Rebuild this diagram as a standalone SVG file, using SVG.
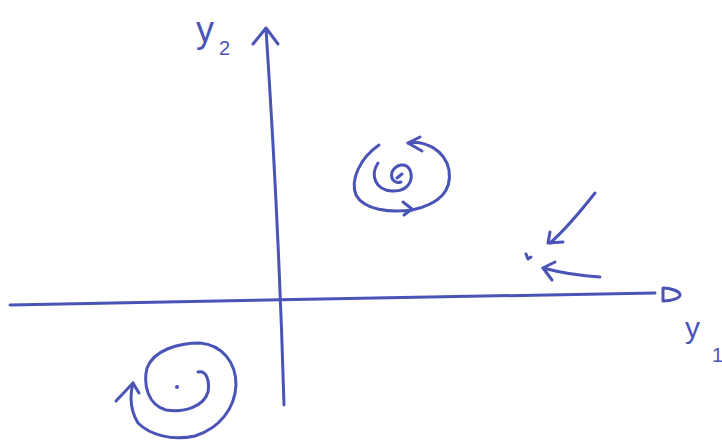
<svg xmlns="http://www.w3.org/2000/svg" width="722" height="441" viewBox="0 0 722 441">
<style>
.s{fill:none;stroke:#4a54b6;stroke-width:3;stroke-linecap:round;stroke-linejoin:round}
.t{fill:#4a54b6;font-family:"Liberation Sans",sans-serif}
</style>
<rect width="722" height="441" fill="#ffffff"/>
<g id="axes">
  <path class="s" d="M284,405 C281,300 274,150 266,29"/>
  <path class="s" d="M253,44 L266,28 L278,44"/>
  <path class="s" d="M10,305 C200,302 450,296 655,293"/>
  <path class="s" d="M663,288 L663,301 C672,301 680,298 680,295 C680,291 670,288 663,288 Z"/>
</g>
<g id="label-y2">
  <text class="t" x="196" y="42" font-size="36">y</text>
  <text class="t" x="219" y="55" font-size="20">2</text>
</g>
<g id="label-y1">
  <text class="t" x="685" y="338" font-size="30">y</text>
  <text class="t" x="712" y="362" font-size="20">1</text>
</g>
<g id="spiral-top">
  <path class="s" d="M379,145 C360,158 350,180 356,195 C364,210 390,213 412,210"/>
  <path class="s" d="M403,202 L412,209 L404,215"/>
  <path class="s" d="M408,143 C425,140 445,150 449,170 C452,190 440,204 412,210"/>
  <path class="s" d="M420,137 L408,143 L422,151"/>
  <path class="s" d="M378,163 C370,175 375,190 392,191 C408,192 414,180 410,170 C406,162 396,164 392,172 C390,180 396,184 401,182"/>
  <path class="s" d="M397,178 L402,174"/>
</g>
<g id="trajectories-right">
  <path class="s" d="M595,193 C580,212 565,230 550,243"/>
  <path class="s" d="M550,232 L548,243 L563,242"/>
  <path class="s" d="M600,277 C583,276 562,273 543,268"/>
  <path class="s" d="M555,262 L543,268 L552,280"/>
  <path class="s" d="M526,254 L528,259 L531,257"/>
</g>
<g id="spiral-bottom">
  <path class="s" d="M198,372 C206,370 210,380 208,392 C204,406 185,413 166,410 C148,405 143,385 147,368 C154,350 178,343 200,343 C222,345 236,362 236,385 C235,408 220,428 195,436 C172,441 150,435 138,423 C130,410 130,395 133,383"/>
  <path class="s" d="M116,401 L133,383 L139,393"/>
  <circle cx="177" cy="387" r="2" fill="#4a54b6"/>
</g>
</svg>
